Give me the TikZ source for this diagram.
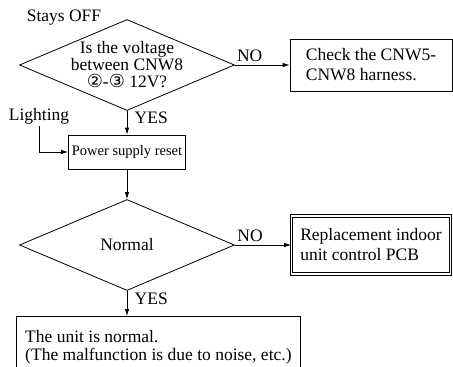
\documentclass[tikz,border=0pt]{standalone}
\usepackage{fontspec}
\setmainfont{Liberation Serif}
\newfontfamily\circfont{DejaVu Sans}
\usetikzlibrary{arrows.meta,shapes.geometric}
\tikzset{
  >={Latex[length=7pt,width=4.5pt]},
  decision/.style = {diamond, draw, aspect=2.34, inner sep=-4pt,
                     minimum width=215pt, minimum height=91pt,
                     align=center, font=\fontsize{17.5}{17}\selectfont},
  actbox/.style = {rectangle, draw, align=left, minimum width=162pt},
  resetbox/.style = {rectangle, draw, minimum width=116pt, minimum height=34pt,
                     font=\fontsize{14.5}{16}\selectfont},
  finalbox/.style = {actbox, double, double distance=1.6pt, line width=.8pt,
                     minimum width=159pt, minimum height=58pt},
  plain/.style = {inner sep=2pt},
}
\newcommand\circnum[1]{{\circfont\fontsize{18}{17}\selectfont #1}}
\begin{document}
\begin{tikzpicture}[x=1pt,y=-1pt,line width=.8pt,
  font=\fontsize{17.5}{20}\selectfont]
\clip (0,0) rectangle (453,367);
\node[plain] (off) at (64,18) {Stays OFF};
\node[decision] (volt) at (127,65) {Is the voltage\\between CNW8\\\circnum{②}-\circnum{③} 12V?};
\node[actbox, minimum height=52pt] (harness) at (371,65) {Check the CNW5-\\CNW8 harness.};
\node[plain] (light) at (39,116) {Lighting};
\node[resetbox] (reset) at (127,152) {Power supply reset};
\node[decision] (normal) at (127,245) {Normal};
\node[finalbox] (pcb) at (371,245) {Replacement indoor\\unit control PCB};
\node[actbox, anchor=north west, minimum width=284pt, minimum height=62pt,
      inner xsep=4pt, font=\fontsize{17.5}{17.5}\selectfont] (unit) at (16,316)
  {The unit is normal.\\(The malfunction is due to noise, etc.)};
\path[->] (volt) edge node[above,pos=.27] {NO} (harness)
          (volt) edge node[right=4pt,pos=.3] {YES} (reset)
          (reset) edge (normal)
          (normal) edge node[above,pos=.27] {NO} (pcb)
          ;
\draw[->] (light.south) |- (reset.west);
\draw[->] (normal.south) -- node[right=4pt,pos=.3] {YES} (normal.south |- unit.north);
\end{tikzpicture}
\end{document}
